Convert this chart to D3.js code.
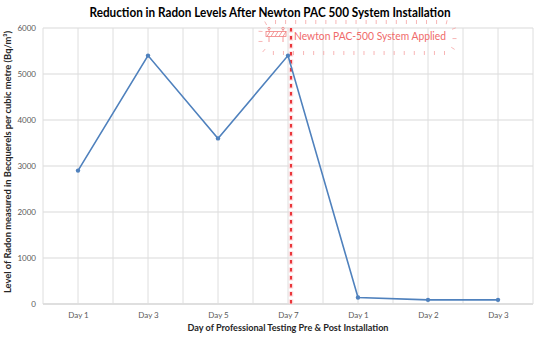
<!DOCTYPE html>
<html>
<head>
<meta charset="utf-8">
<script src="https://cdn.jsdelivr.net/npm/d3@7"></script>
<style>
  body { margin: 0; background: #fff; }
  text { font-family: Lato, "Open Sans", sans-serif; }
</style>
</head>
<body>
<div class="chart"></div>
<script>
// chart data
var days = ["Day 1", "Day 3", "Day 5", "Day 7", "Day 1", "Day 2", "Day 3"];
var radon = [2900, 5400, 3600, 5400, 140, 90, 90];
var yTicks = [0, 1000, 2000, 3000, 4000, 5000, 6000];
var installIndex = 3; // system applied after Day 7

var svgWidth = 538;
var svgHeight = 340;

var margin = { top: 28, right: 5, bottom: 36, left: 43 };
var width = svgWidth - margin.left - margin.right;
var height = svgHeight - margin.top - margin.bottom;

var svg = d3.select(".chart")
    .append("svg")
    .attr("width", svgWidth)
    .attr("height", svgHeight);

var chartGroup = svg.append("g")
    .attr("transform", `translate(${margin.left}, ${margin.top})`);

// scales: categories sit on a linear index so we get half-step gridlines
var xScale = d3.scaleLinear()
    .domain([-0.5, days.length - 0.5])
    .range([0, width]);

var yScale = d3.scaleLinear()
    .domain([0, 6000])
    .range([height, 0]);

// horizontal gridlines
chartGroup.append("g")
    .selectAll("line")
    .data(yTicks)
    .enter()
    .append("line")
    .attr("x1", 0)
    .attr("x2", width)
    .attr("y1", d => yScale(d))
    .attr("y2", d => yScale(d))
    .attr("stroke", d => d === 0 ? "#bfbfbf" : "#d9d9d9")
    .attr("stroke-width", 1);

// vertical gridlines every half category
var vSteps = d3.range(-0.5, days.length, 0.5);
chartGroup.append("g")
    .selectAll("line")
    .data(vSteps)
    .enter()
    .append("line")
    .attr("x1", d => xScale(d))
    .attr("x2", d => xScale(d))
    .attr("y1", 0)
    .attr("y2", height)
    .attr("stroke", "#dedede")
    .attr("stroke-width", 1);

// axes
var bottomAxis = d3.axisBottom(xScale)
    .tickValues(d3.range(days.length))
    .tickFormat(i => days[i])
    .tickSize(0)
    .tickPadding(8);

var leftAxis = d3.axisLeft(yScale)
    .tickValues(yTicks)
    .tickSize(0)
    .tickPadding(7)
    .tickFormat(d3.format("d"));

var xAxisG = chartGroup.append("g")
    .attr("transform", `translate(0, ${height})`)
    .call(bottomAxis);

var yAxisG = chartGroup.append("g")
    .call(leftAxis);

[xAxisG, yAxisG].forEach(function(g) {
    g.select(".domain").remove();
    g.selectAll("text")
        .attr("fill", "#595959")
        .style("font-size", "8px")
        .style("font-family", "Lato, 'Open Sans', sans-serif");
});

// red dashed installation marker, with a soft pink halo
var markX = xScale(installIndex) + 3;
chartGroup.append("line")
    .attr("x1", markX).attr("x2", markX)
    .attr("y1", 0).attr("y2", height)
    .attr("stroke", "#fbd5d8")
    .attr("stroke-width", 4.5)
    .attr("stroke-dasharray", "5,3")
    .attr("stroke-dashoffset", 0.5);

chartGroup.append("line")
    .attr("x1", markX).attr("x2", markX)
    .attr("y1", 0).attr("y2", height)
    .attr("stroke", "#e8262b")
    .attr("stroke-width", 1.8)
    .attr("stroke-dasharray", "3.5,4.5");

// line series
var line = d3.line()
    .x((d, i) => xScale(i))
    .y(d => yScale(d));

chartGroup.append("path")
    .datum(radon)
    .attr("fill", "none")
    .attr("stroke", "#4f81bd")
    .attr("stroke-width", 1.6)
    .attr("d", line);

chartGroup.selectAll(".pt")
    .data(radon)
    .enter()
    .append("circle")
    .attr("class", "pt")
    .attr("cx", (d, i) => xScale(i))
    .attr("cy", d => yScale(d))
    .attr("r", 2.2)
    .attr("fill", "#4f81bd");

// annotation with a burst of short rays around a rounded rectangle
var ann = svg.append("g");
var cx = 357.5, cy = 37.5, hw = 97, hh = 15.5, cr = 10;
var sTop = 2 * (hw - cr), sSide = 2 * (hh - cr), sArc = Math.PI * cr / 2;
var perim = 2 * sTop + 2 * sSide + 4 * sArc;

// point and outward normal at distance s along the outline (from top-left, clockwise)
function outline(s) {
    var segs = [
        { len: sTop, f: t => [cx - hw + cr + t, cy - hh, 0, -1] },
        { len: sArc, f: t => { var a = -Math.PI / 2 + t / cr; return [cx + hw - cr + cr * Math.cos(a), cy - hh + cr + cr * Math.sin(a), Math.cos(a), Math.sin(a)]; } },
        { len: sSide, f: t => [cx + hw, cy - hh + cr + t, 1, 0] },
        { len: sArc, f: t => { var a = t / cr; return [cx + hw - cr + cr * Math.cos(a), cy + hh - cr + cr * Math.sin(a), Math.cos(a), Math.sin(a)]; } },
        { len: sTop, f: t => [cx + hw - cr - t, cy + hh, 0, 1] },
        { len: sArc, f: t => { var a = Math.PI / 2 + t / cr; return [cx - hw + cr + cr * Math.cos(a), cy + hh - cr + cr * Math.sin(a), Math.cos(a), Math.sin(a)]; } },
        { len: sSide, f: t => [cx - hw, cy + hh - cr - t, -1, 0] },
        { len: sArc, f: t => { var a = Math.PI + t / cr; return [cx - hw + cr + cr * Math.cos(a), cy - hh + cr + cr * Math.sin(a), Math.cos(a), Math.sin(a)]; } }
    ];
    for (var i = 0; i < segs.length; i++) {
        if (s <= segs[i].len) return segs[i].f(s);
        s -= segs[i].len;
    }
    return segs[0].f(0);
}

var rayCount = Math.round(perim / 10);
ann.selectAll("line")
    .data(d3.range(rayCount))
    .enter()
    .append("line")
    .each(function(k) {
        var p = outline((k + 0.5) * perim / rayCount);
        d3.select(this)
            .attr("x1", p[0] - p[2] * 2)
            .attr("y1", p[1] - p[3] * 2)
            .attr("x2", p[0] + p[2] * 2)
            .attr("y2", p[1] + p[3] * 2);
    })
    .attr("stroke", "#f5a3a3")
    .attr("stroke-width", 0.8);

ann.append("text")
    .attr("x", 294)
    .attr("y", 40)
    .attr("textLength", 152)
    .attr("lengthAdjust", "spacingAndGlyphs")
    .attr("fill", "#f06a6a")
    .style("font-size", "11px")
    .text("Newton PAC-500 System Applied");

// barricade icon
var bar = ann.append("g").attr("stroke", "#f08080").attr("fill", "none").attr("stroke-width", 0.8);
bar.append("rect").attr("x", 266).attr("y", 31.5).attr("width", 20).attr("height", 5);
d3.range(0, 5).forEach(function(k) {
    bar.append("line")
        .attr("x1", 267 + k * 4).attr("y1", 36.5)
        .attr("x2", 270 + k * 4).attr("y2", 31.5);
});
[269, 283].forEach(function(x) {
    bar.append("line").attr("x1", x).attr("x2", x).attr("y1", 36.5).attr("y2", 42);
    bar.append("line").attr("x1", x).attr("x2", x).attr("y1", 29.5).attr("y2", 31.5);
    bar.append("circle").attr("cx", x).attr("cy", 28.5).attr("r", 1.2);
});

// titles
svg.append("text")
    .attr("x", 270)
    .attr("y", 17)
    .attr("text-anchor", "middle")
    .attr("textLength", 361)
    .attr("lengthAdjust", "spacingAndGlyphs")
    .attr("fill", "#000")
    .style("font-size", "13px")
    .style("font-weight", "bold")
    .text("Reduction in Radon Levels After Newton PAC 500 System Installation");

svg.append("text")
    .attr("x", 288)
    .attr("y", 331)
    .attr("text-anchor", "middle")
    .attr("textLength", 201)
    .attr("lengthAdjust", "spacingAndGlyphs")
    .attr("fill", "#262626")
    .style("font-size", "9.5px")
    .style("font-weight", "bold")
    .text("Day of Professional Testing Pre & Post Installation");

svg.append("text")
    .attr("transform", "translate(11, 162) rotate(-90)")
    .attr("text-anchor", "middle")
    .attr("textLength", 262)
    .attr("lengthAdjust", "spacingAndGlyphs")
    .attr("fill", "#262626")
    .style("font-size", "9.5px")
    .style("font-weight", "bold")
    .text("Level of Radon measured in Becquerels per cubic metre (Bq/m³)");
</script>
</body>
</html>
